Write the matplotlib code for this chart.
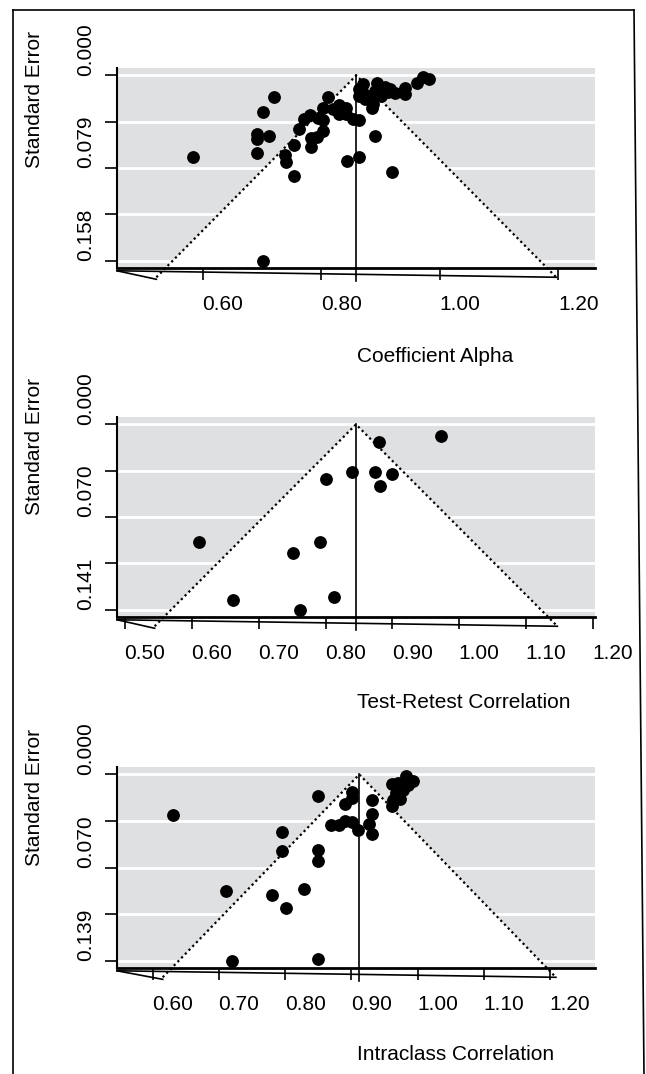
import matplotlib
matplotlib.use("Agg")
import matplotlib.pyplot as plt
import matplotlib.transforms as mtransforms
from matplotlib.lines import Line2D

plt.rcParams['font.family'] = ['Liberation Sans', 'DejaVu Sans']
plt.rcParams['font.size'] = 15

W, H = 646, 1074
GREY = '#dfe0e2'

# --- Coefficient Alpha -------------------------------------------------
alpha_est = 0.859
alpha_x = [0.583, 0.701, 0.720, 0.701, 0.692, 0.692, 0.711, 0.692, 0.739, 0.740,
           0.753, 0.753, 0.763, 0.771, 0.781, 0.795, 0.802, 0.802, 0.792, 0.782,
           0.782, 0.802, 0.811, 0.820, 0.829, 0.830, 0.842, 0.842, 0.854, 0.863,
           0.843, 0.863, 0.891, 0.920, 0.863, 0.863, 0.871, 0.874, 0.877, 0.885,
           0.885, 0.888, 0.894, 0.899, 0.901, 0.908, 0.913, 0.916, 0.925, 0.941,
           0.941, 0.962, 0.972, 0.981, 0.869, 0.891]
alpha_se = [0.0694, 0.1586, 0.0182, 0.0313, 0.0504, 0.0541, 0.0518, 0.0666, 0.0675, 0.0740,
            0.0860, 0.0598, 0.0455, 0.0370, 0.0342, 0.0361, 0.0382, 0.0476, 0.0523, 0.0532,
            0.0609, 0.0276, 0.0182, 0.0290, 0.0256, 0.0333, 0.0276, 0.0333, 0.0370, 0.0382,
            0.0732, 0.0694, 0.0518, 0.0826, 0.0120, 0.0177, 0.0077, 0.0205, 0.0177, 0.0205,
            0.0276, 0.0248, 0.0062, 0.0120, 0.0177, 0.0096, 0.0145, 0.0114, 0.0148, 0.0105,
            0.0162, 0.0062, 0.0011, 0.0034, 0.0137, 0.0137]
alpha_xticks = [0.6, 0.8, 1.0, 1.2]
alpha_xlabels = ['0.60', '0.80', '1.00', '1.20']
alpha_semax = 0.158
alpha_ylabels = ['0.000', '', '0.079', '', '0.158']
alpha_xlim = (0.455, 1.262)

# --- Test-Retest Correlation ------------------------------------------
retest_est = 0.8455
retest_x = [0.972, 0.880, 0.840, 0.874, 0.900, 0.800, 0.881, 0.611, 0.791, 0.752,
            0.661, 0.812, 0.761]
retest_se = [0.0091, 0.0134, 0.0364, 0.0364, 0.0379, 0.0419, 0.0468, 0.0897, 0.0897, 0.0980,
             0.1340, 0.1312, 0.1410]
retest_xticks = [0.5, 0.6, 0.7, 0.8, 0.9, 1.0, 1.1, 1.2]
retest_xlabels = ['0.50', '0.60', '0.70', '0.80', '0.90', '1.00', '1.10', '1.20']
retest_semax = 0.141
retest_ylabels = ['0.000', '', '0.070', '', '0.141']
retest_xlim = (0.488, 1.203)

# --- Intraclass Correlation -------------------------------------------
icc_est = 0.912
icc_x = [0.631, 0.850, 0.901, 0.901, 0.890, 0.931, 0.931, 0.869, 0.882, 0.890,
         0.901, 0.910, 0.927, 0.931, 0.795, 0.795, 0.850, 0.850, 0.710, 0.780,
         0.829, 0.801, 0.720, 0.850, 0.961, 0.971, 0.982, 0.993, 0.978, 0.963,
         0.961, 0.973, 0.985, 0.967]
icc_se = [0.0304, 0.0162, 0.0132, 0.0174, 0.0219, 0.0189, 0.0299, 0.0376, 0.0381, 0.0344,
          0.0357, 0.0413, 0.0368, 0.0448, 0.0431, 0.0573, 0.0561, 0.0648, 0.0872, 0.0897,
          0.0854, 0.0996, 0.1395, 0.1377, 0.0070, 0.0065, 0.0015, 0.0050, 0.0114, 0.0194,
          0.0232, 0.0182, 0.0082, 0.0135]
icc_xticks = [0.6, 0.7, 0.8, 0.9, 1.0, 1.1, 1.2]
icc_xlabels = ['0.60', '0.70', '0.80', '0.90', '1.00', '1.10', '1.20']
icc_semax = 0.139
icc_ylabels = ['0.000', '', '0.070', '', '0.139']
icc_xlim = (0.546, 1.268)

fig = plt.figure(figsize=(W / 100, H / 100), dpi=100)


def px_text(x, y, s, **kw):
    fig.text(x / W, 1 - y / H, s, **kw)


def funnel(top, bottom, est, xs, ses, xticks, xlabels, semax, ylabels, xlim,
           xlabel, xlabel_y, ylabel_y):
    ax = fig.add_axes([117 / W, 1 - bottom / H, (595 - 117) / W, (bottom - top) / H])
    ax.set_facecolor(GREY)
    ax.set_xlim(*xlim)
    ax.set_ylim(semax * 1.04, -semax * 0.04)

    yt = [semax * i / 4 for i in range(5)]
    for y in yt:
        ax.axhline(y, color='white', lw=2.0, zorder=0.5)

    base = semax * 1.09
    lx, rx = est - 1.96 * base, est + 1.96 * base
    ax.fill([lx, est, rx], [base, 0, base], color='white', zorder=1, lw=0)
    ax.plot([lx, est, rx], [base, 0, base], color='black', lw=1.6,
            linestyle=(0, (1, 1.4)), clip_on=False, zorder=2)
    ax.plot([est, est], [0, base * 1.02], color='black', lw=1.2, clip_on=False, zorder=2)

    # odd extra edges below the axis
    y0 = semax * 1.055
    ax.plot([xlim[0], rx], [y0, base], color='black', lw=1.2, clip_on=False, zorder=2)
    ax.plot([xlim[0], lx], [y0, base * 1.01], color='black', lw=1.2, clip_on=False, zorder=2)

    ax.plot(xs, ses, 'o', color='black', ms=8.2, zorder=3, clip_on=False)

    for s in ('top', 'right'):
        ax.spines[s].set_visible(False)
    ax.spines['left'].set_linewidth(1.5)
    ax.spines['bottom'].set_linewidth(2.0)

    ax.set_xticks(xticks, xlabels)
    ax.set_yticks(yt, ylabels, rotation=90, va='center')
    ax.tick_params(axis='both', length=8.6, width=1.2, direction='out')
    ax.tick_params(axis='x', pad=11)
    ax.tick_params(axis='y', pad=7)

    dx = mtransforms.ScaledTranslation(0.20, 0, fig.dpi_scale_trans)
    dy = mtransforms.ScaledTranslation(0, 0.26, fig.dpi_scale_trans)
    for lab in ax.get_xticklabels():
        lab.set_transform(lab.get_transform() + dx)
    for lab in ax.get_yticklabels():
        lab.set_transform(lab.get_transform() + dy)

    px_text(357, xlabel_y, xlabel, ha='left', va='center')
    px_text(35, ylabel_y, 'Standard Error', rotation=90, ha='center', va='center')
    return ax


funnel(68, 268, alpha_est, alpha_x, alpha_se, alpha_xticks, alpha_xlabels,
       alpha_semax, alpha_ylabels, alpha_xlim, 'Coefficient Alpha', 356, 100)
funnel(417, 617, retest_est, retest_x, retest_se, retest_xticks, retest_xlabels,
       retest_semax, retest_ylabels, retest_xlim, 'Test-Retest Correlation', 703, 447)
funnel(767, 968, icc_est, icc_x, icc_se, icc_xticks, icc_xlabels,
       icc_semax, icc_ylabels, icc_xlim, 'Intraclass Correlation', 1055, 798)

# outer frame (open at the bottom)
for (x0, y0), (x1, y1) in [((13, 10), (634, 10)), ((13, 10), (13, 1074)),
                           ((634, 10), (644, 1074))]:
    fig.add_artist(Line2D([x0 / W, x1 / W], [1 - y0 / H, 1 - y1 / H],
                          color='black', lw=1.2, transform=fig.transFigure))

fig.savefig('out.png', dpi=100)
